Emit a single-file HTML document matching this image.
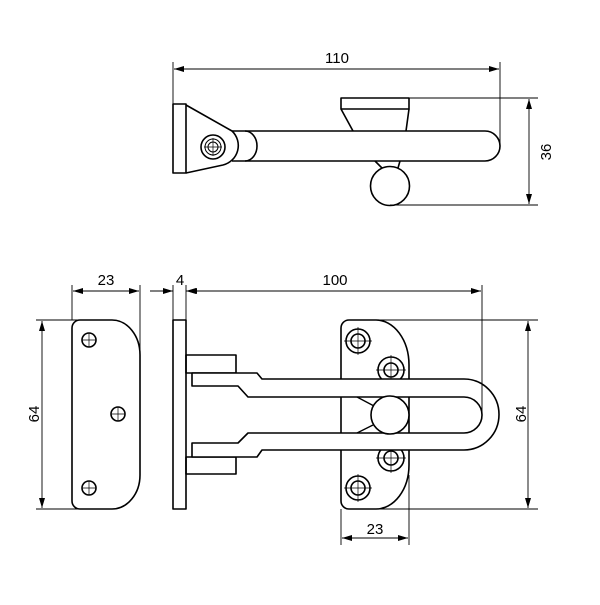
<!DOCTYPE html>
<html><head><meta charset="utf-8"><style>html,body{margin:0;padding:0;background:#fff}</style></head>
<body>
<svg width="600" height="600" viewBox="0 0 600 600" xmlns="http://www.w3.org/2000/svg">
<defs>
<marker id="a" viewBox="0 0 10 6" refX="10" refY="3" markerWidth="10" markerHeight="6" orient="auto-start-reverse" markerUnits="userSpaceOnUse"><path d="M0,0 L10,3 L0,6z" fill="#000"/></marker>
</defs>
<g fill="none" stroke="#000" stroke-width="1.6" stroke-linejoin="round">
<!-- TOP VIEW -->
<rect x="173" y="104" width="13" height="69"/>
<path d="M186,105 L232,131 A20,20 0 0 1 223,165 L186,173"/>
<circle cx="213" cy="147" r="12"/>
<circle cx="213" cy="147" r="8" stroke-width="1"/>
<circle cx="213" cy="147" r="5" stroke-width="1"/>
<path d="M232,131 L485,131 A15,15 0 0 1 485,161 L232,161"/>
<path d="M245,131 A12,15 0 0 1 245,161"/>
<rect x="341" y="98" width="68" height="11"/>
<path d="M341,109 L353,131 M409,109 L406,131"/>
<path d="M375,161 L382,168 M400,161 L398,168"/>
<circle cx="390" cy="186" r="19.5"/>

<!-- PLATE FRONT -->
<path d="M80,320 L112,320 A28,35 0 0 1 140,355 L140,475 A28,34 0 0 1 112,509 L80,509 A8,8 0 0 1 72,501 L72,328 A8,8 0 0 1 80,320Z"/>
<circle cx="89" cy="340" r="7"/><circle cx="118" cy="414" r="7"/><circle cx="89" cy="488" r="7"/>

<!-- PLATE SIDE -->
<rect x="173" y="320" width="13" height="189"/>
<rect x="186" y="355" width="50" height="18"/>
<rect x="186" y="457" width="50" height="17"/>

<!-- KEEPER PLATE -->
<path d="M349,320 L376,320 A33,45 0 0 1 409,365 L409,465 A33,44 0 0 1 376,509 L349,509 A8,8 0 0 1 341,501 L341,328 A8,8 0 0 1 349,320Z"/>
<circle cx="358" cy="341" r="12"/><circle cx="358" cy="341" r="7"/>
<circle cx="391" cy="370" r="13"/><circle cx="391" cy="370" r="7"/>
<circle cx="391" cy="458" r="13"/><circle cx="391" cy="458" r="7"/>
<circle cx="358" cy="488" r="12"/><circle cx="358" cy="488" r="7"/>
</g>
<g stroke="#000" stroke-width="0.7">
<path d="M358,327 V355 M344,341 H372 M358,474 V502 M344,488 H372 M391,355 V385 M376,370 H406 M391,443 V473 M376,458 H406"/>
<path d="M89,333 V347 M82,340 H96 M118,407 V421 M111,414 H125 M89,481 V495 M82,488 H96"/>
<path d="M204,147 H222 M213,138 V156"/>
</g>
<!-- BAR -->
<path fill="#fff" fill-rule="evenodd" stroke="#000" stroke-width="1.6" stroke-linejoin="round" d="M192,373 L257,373 L262,379 L464,379 A35,35.5 0 0 1 464,450 L262,450 L257,457 L192,457 L192,443 L238,443 L248,433 L464,433 A18,18 0 0 0 464,397 L248,397 L238,386 L192,386 Z"/>
<path d="M357,397 L374,406 M357,433 L373,425" stroke="#000" stroke-width="1.3" fill="none"/>
<circle cx="390" cy="415" r="19" fill="#fff" stroke="#000" stroke-width="1.6"/>

<!-- DIMENSIONS -->
<g stroke="#000" stroke-width="0.9" fill="none">
<path d="M173,62 V104 M500,62 V146"/>
<path d="M174,69 H499" marker-start="url(#a)" marker-end="url(#a)"/>
<path d="M409,98 H538 M390,205 H538"/>
<path d="M529,99 V204" marker-start="url(#a)" marker-end="url(#a)"/>
<path d="M72,285 V320 M140,285 V355"/>
<path d="M73,291 H139" marker-start="url(#a)" marker-end="url(#a)"/>
<path d="M150,291 H173 M186,291 H208 M173,285 V320 M186,285 V320"/>
<path d="M163,291 H173" marker-end="url(#a)"/>
<path d="M196,291 H186" marker-end="url(#a)"/>
<path d="M187,291 H481" marker-start="url(#a)" marker-end="url(#a)"/>
<path d="M482,285 V415"/>
<path d="M36,320 H80 M36,509 H80"/>
<path d="M42,321 V508" marker-start="url(#a)" marker-end="url(#a)"/>
<path d="M376,320 H538 M376,509 H538"/>
<path d="M528,321 V508" marker-start="url(#a)" marker-end="url(#a)"/>
<path d="M341,509 V545 M409,475 V545"/>
<path d="M342,538 H408" marker-start="url(#a)" marker-end="url(#a)"/>
</g>
<g font-family="Liberation Sans, sans-serif" font-size="15" fill="#000" text-anchor="middle">
<text x="337" y="63">110</text>
<text x="106" y="285">23</text>
<text x="180" y="285">4</text>
<text x="335" y="285">100</text>
<text x="375" y="534">23</text>
<text transform="translate(551,152) rotate(-90)">36</text>
<text transform="translate(39,414) rotate(-90)">64</text>
<text transform="translate(526,414) rotate(-90)">64</text>
</g>
</svg>
</body></html>
